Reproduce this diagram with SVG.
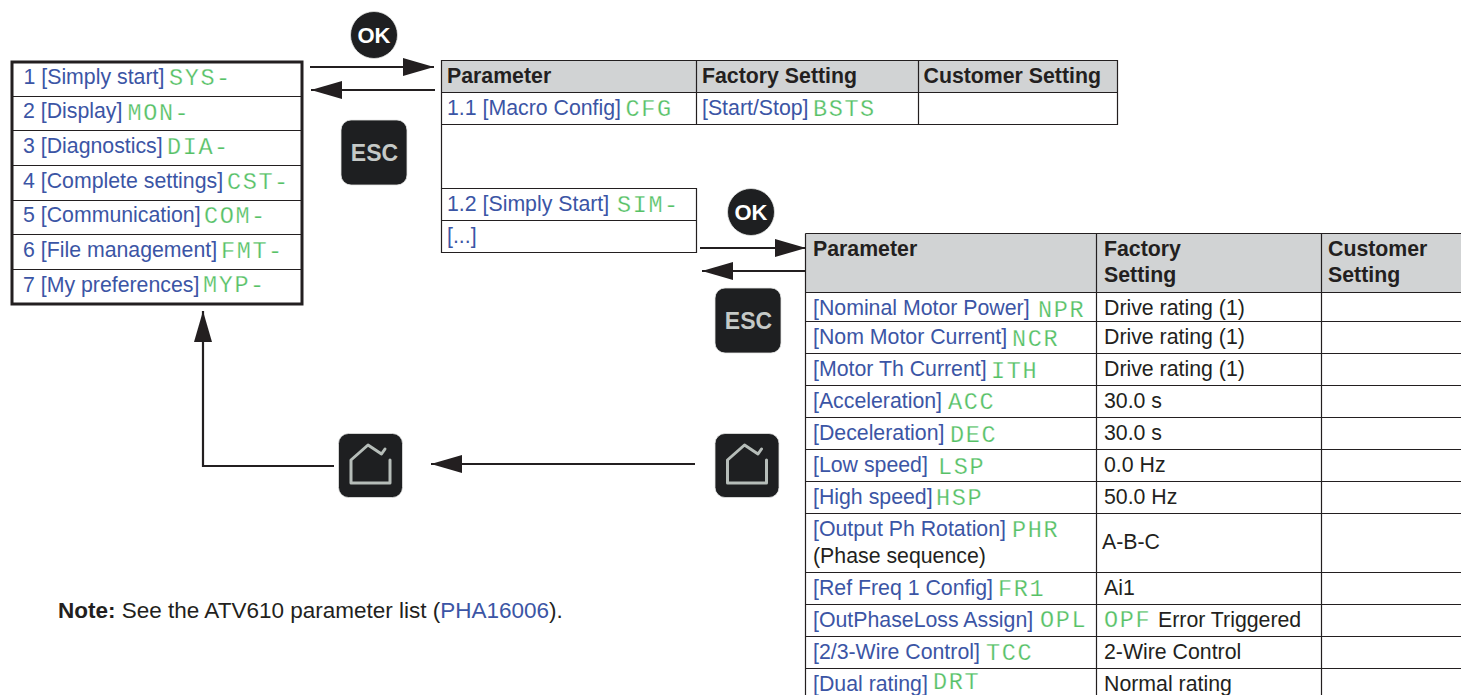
<svg xmlns="http://www.w3.org/2000/svg" width="1461" height="695" viewBox="0 0 1461 695">
<style>
text{font-family:"Liberation Sans",Arial,sans-serif;font-size:21.300px;fill:#231f20}
.h{font-weight:bold}
.b{fill:#3b55a5}
.g{font-family:"Liberation Mono","Courier New",monospace;font-size:23.500px;letter-spacing:1.6px;fill:#56c166;stroke:#fff;stroke-width:.25px}
.l{stroke:#231f20;stroke-width:1.2;fill:none}
.t{stroke:#231f20;stroke-width:3;fill:none}
.hd{fill:#d1d3d4}
.c{stroke:#231f20;stroke-width:2.2;fill:none}
.k{fill:#1e1f21;stroke:#e4e6e5;stroke-width:.8}
.kt{font-weight:bold;text-anchor:middle}
.hm{fill:none;stroke:#b6bdb9;stroke-width:3;stroke-linejoin:round;stroke-linecap:round}
.n{font-size:22.500px}
</style>
<defs>
<marker id="ah" markerUnits="userSpaceOnUse" markerWidth="32" markerHeight="20" refX="31" refY="9.500" orient="auto"><path d="M0 0.500L31 9.500L0 18.500Z" fill="#231f20"/></marker>
</defs>
<g id="menu">
<rect x="12" y="62" width="290" height="242" fill="#fff" class="t"/>
<path class="l" d="M11 96.500H302M11 130.500H302M11 165.500H302M11 200.500H302M11 234.500H302M11 269.500H302"/>
<text class="b" x="23.500" y="84">1 [Simply start]</text><text class="g" x="169" y="85">SYS-</text>
<text class="b" x="23" y="118">2 [Display]</text><text class="g" x="127.500" y="120">MON-</text>
<text class="b" x="23" y="153">3 [Diagnostics]</text><text class="g" x="167" y="154">DIA-</text>
<text class="b" x="23" y="188">4 [Complete settings]</text><text class="g" x="227" y="189">CST-</text>
<text class="b" x="23" y="222">5 [Communication]</text><text class="g" x="204" y="223">COM-</text>
<text class="b" x="23" y="257">6 [File management]</text><text class="g" x="221" y="258">FMT-</text>
<text class="b" x="23" y="292">7 [My preferences]</text><text class="g" x="203" y="292">MYP-</text>
</g>
<g id="table-macro">
<rect class="hd" x="441" y="60.500" width="677" height="32"/>
<path class="l" d="M441.500 60.500H1117.500V124.500H441.500ZM441.500 92.500H1117.500M696.500 60.500V124.500M918.500 60.500V124.500M441.500 124.500V188.500"/>
<text class="h" x="447" y="83">Parameter</text><text class="h" x="702" y="83">Factory Setting</text><text class="h" x="923.500" y="83">Customer Setting</text>
<text class="b" x="447" y="115">1.1 [Macro Config]</text><text class="g" x="625.500" y="116">CFG</text>
<text class="b" x="702" y="115">[Start/Stop]</text><text class="g" x="813" y="116">BSTS</text>
</g>
<g id="table-simply">
<path class="l" d="M441.500 188.500H696.500V252.500H441.500ZM441.500 220.500H696.500"/>
<text class="b" x="447" y="211">1.2 [Simply Start]</text><text class="g" x="617" y="212">SIM-</text>
<text class="b" x="447" y="243">[...]</text>
</g>
<g id="table-params">
<rect class="hd" x="805" y="233.500" width="656" height="59"/>
<path class="l" d="M805.500 233.500H1461M805.500 233.500V695M1096.500 233.500V695M1321.500 233.500V695M805.500 292.500H1461M805.500 321.500H1461M805.500 353.500H1461M805.500 385.500H1461M805.500 417.500H1461M805.500 449.500H1461M805.500 481.500H1461M805.500 513.500H1461M805.500 572.500H1461M805.500 604.500H1461M805.500 636.500H1461M805.500 668.500H1461"/>
<text class="h" x="813" y="256">Parameter</text><text class="h" x="1104" y="256">Factory</text><text class="h" x="1104" y="282">Setting</text><text class="h" x="1328" y="256">Customer</text><text class="h" x="1328" y="282">Setting</text>
<text class="b" x="813" y="315">[Nominal Motor Power]</text><text class="g" x="1038" y="317">NPR</text><text x="1104" y="315">Drive rating (1)</text>
<text class="b" x="813" y="344">[Nom Motor Current]</text><text class="g" x="1012" y="346">NCR</text><text x="1104" y="344">Drive rating (1)</text>
<text class="b" x="813" y="376">[Motor Th Current]</text><text class="g" x="991" y="378">ITH</text><text x="1104" y="376">Drive rating (1)</text>
<text class="b" x="813" y="408">[Acceleration]</text><text class="g" x="948" y="409">ACC</text><text x="1104" y="408">30.0 s</text>
<text class="b" x="813" y="440">[Deceleration]</text><text class="g" x="950" y="442">DEC</text><text x="1104" y="440">30.0 s</text>
<text class="b" x="813" y="472">[Low speed]</text><text class="g" x="938" y="474">LSP</text><text x="1104" y="472">0.0 Hz</text>
<text class="b" x="813" y="504">[High speed]</text><text class="g" x="936" y="505">HSP</text><text x="1104" y="504">50.0 Hz</text>
<text class="b" x="813" y="536">[Output Ph Rotation]</text><text class="g" x="1012" y="537">PHR</text><text x="813" y="563">(Phase sequence)</text><text x="1102" y="549">A-B-C</text>
<text class="b" x="813" y="595">[Ref Freq 1 Config]</text><text class="g" x="998" y="596">FR1</text><text x="1104" y="595">Ai1</text>
<text class="b" x="813" y="627">[OutPhaseLoss Assign]</text><text class="g" x="1040" y="627">OPL</text><text class="g" x="1104" y="627">OPF</text><text x="1158" y="627">Error Triggered</text>
<text class="b" x="813" y="659">[2/3-Wire Control]</text><text class="g" x="986" y="660">TCC</text><text x="1104" y="659">2-Wire Control</text>
<text class="b" x="813" y="690.500">[Dual rating]</text><text class="g" x="933" y="688.500">DRT</text><text x="1104" y="690.500">Normal rating</text>
</g>
<g id="connectors">
<path class="c" marker-end="url(#ah)" d="M310 67H434"/>
<path class="c" marker-end="url(#ah)" d="M435 90H311"/>
<path class="c" marker-end="url(#ah)" d="M700 248H806"/>
<path class="c" marker-end="url(#ah)" d="M805 271H702"/>
<path class="c" marker-end="url(#ah)" d="M695 464H431"/>
<path class="c" marker-end="url(#ah)" d="M334 466H203V311"/>
</g>
<g id="ok-1"><circle class="k" cx="374" cy="35" r="23.500"/><text class="kt" x="374" y="43" style="fill:#fff;font-size:22px">OK</text></g>
<g id="esc-1"><rect class="k" x="341" y="120" width="66" height="65" rx="10"/><text class="kt" x="374.500" y="161" style="fill:#c5c9c7;font-size:23px">ESC</text></g>
<g id="ok-2"><circle class="k" cx="751" cy="212" r="23.500"/><text class="kt" x="751" y="220" style="fill:#fff;font-size:22px">OK</text></g>
<g id="esc-2"><rect class="k" x="715" y="288" width="66" height="65" rx="10"/><text class="kt" x="748.500" y="329" style="fill:#c5c9c7;font-size:23px">ESC</text></g>
<g id="home-1"><rect class="k" x="338.500" y="433.500" width="64" height="64" rx="10"/><path class="hm" d="M390 460V483H351V460L368 445L381.500 454L385 449"/></g>
<g id="home-2"><rect class="k" x="715" y="433.500" width="64" height="64" rx="10"/><path class="hm" d="M766.500 460V483H727.500V460L744.500 445L758 454L761.500 449"/></g>
<g id="note">
<text class="n" x="58" y="618"><tspan class="h">Note:</tspan> See the ATV610 parameter list (<tspan class="b">PHA16006</tspan>).</text>
</g>
</svg>
